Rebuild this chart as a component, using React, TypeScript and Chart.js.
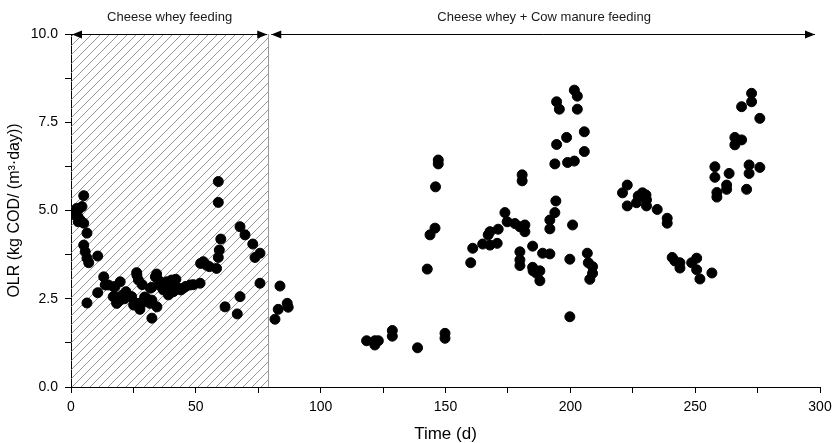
import React, { useEffect, useRef } from "react";
import { Chart, registerables } from "chart.js";

Chart.register(...registerables);

// Phase 1: cheese whey feeding (days, OLR)
const phase1Days = [
  1.6, 2.3, 2.4, 2.8, 2.9, 3.1, 3.7, 4.4, 5.1, 5.1, 6.4, 5.1, 5.7, 6.4, 7.1, 10.7, 6.4, 10.7,
  13.1, 13.7, 15.0, 17.1, 17.6, 19.7, 17.7, 18.4, 19.7, 16.9, 18.3, 20.5, 21.5, 22.0, 23.7, 24.3,
  25.1, 26.3, 26.4, 27.0, 26.3, 27.6, 27.8, 28.5, 29.0, 29.5, 30.5, 31.6, 31.8, 32.3, 32.4, 32.4,
  33.8, 34.3, 35.0, 34.4, 36.0, 37.0, 38.3, 38.3, 39.0, 39.6, 40.0, 40.3, 41.0, 41.0, 42.0, 43.0,
  44.0, 45.0, 46.0, 47.7, 49.0, 51.7, 51.9, 53.0, 54.3, 55.4, 58.3, 59.0, 59.4, 60.0, 59.0, 59.0,
  61.7, 66.6, 67.7, 67.7, 69.7, 72.8, 73.7, 75.7, 75.7,
];
const phase1Olr = [
  4.87, 5.06, 4.97, 4.82, 4.68, 5.04, 4.73, 5.11, 5.42, 4.64, 4.36, 4.02, 3.83, 3.65, 3.52, 3.71, 2.38, 2.67,
  3.12, 2.89, 2.89, 2.84, 2.84, 2.98, 2.56, 2.38, 2.46, 2.56, 2.37, 2.6, 2.5, 2.7, 2.56, 2.56,
  2.32, 2.37, 3.17, 3.03, 3.24, 2.2, 2.38, 2.9, 2.4, 2.55, 2.5, 2.37, 2.8, 2.82, 2.46, 1.95,
  3.12, 3.2, 3.03, 2.27, 2.85, 2.75, 2.89, 2.98, 2.61, 2.65, 2.9, 3.03, 2.7, 2.84, 3.05, 2.8,
  2.75, 2.8, 2.85, 2.89, 2.9, 2.94, 3.5, 3.55, 3.45, 3.41, 3.36, 3.67, 3.88, 4.19, 5.82, 5.23,
  2.27, 2.07, 2.56, 4.54, 4.31, 4.05, 3.67, 3.79, 2.94,
];

// Phase 2: cheese whey + cow manure feeding (days, OLR)
const phase2Days = [
  81.7, 83.0, 83.7, 86.6, 87.0, 118.4, 121.7, 121.7, 123.1, 128.7, 128.7, 138.8, 142.7, 143.8,
  145.8, 146.0, 147.1, 147.1, 149.8, 149.8, 160.1, 160.9, 164.9, 167.1, 167.8, 167.8, 170.7, 171.1,
  173.8, 174.7, 177.8, 179.8, 181.8, 181.8, 179.8, 179.8, 179.8, 180.7, 180.7, 184.9, 184.9, 185.1,
  186.5, 187.8, 187.8, 188.9, 191.8, 191.8, 191.8, 193.8, 194.2, 193.8, 194.5, 194.5, 195.6, 198.5,
  198.9, 199.8, 199.8, 200.9, 201.6, 201.6, 202.8, 202.8, 205.6, 205.6, 206.8, 207.2, 207.8, 208.9,
  208.9, 220.9, 222.8, 222.8, 226.5, 227.2, 228.9, 230.3, 230.5, 230.5, 234.8, 238.8, 238.8, 240.8,
  241.9, 243.9, 243.9, 248.6, 250.6, 250.6, 251.9, 256.7, 257.9, 257.9, 258.7, 258.7, 262.6, 262.6,
  263.6, 265.9, 265.9, 268.6, 268.6, 270.6, 271.6, 271.6, 272.6, 272.6, 275.9, 275.9,
];
const phase2Olr = [
  1.92, 2.2, 2.86, 2.37, 2.26, 1.31, 1.31, 1.19, 1.31, 1.6, 1.44, 1.11, 3.34, 4.31,
  4.5, 5.67, 6.43, 6.32, 1.52, 1.38, 3.52, 3.93, 4.05, 4.31, 4.4, 4.02, 4.07, 4.47,
  4.94, 4.68, 4.63, 4.54, 4.59, 4.4, 3.83, 3.6, 3.44, 6.01, 5.84, 3.99, 3.39, 3.29,
  3.22, 3.29, 3.01, 3.79, 3.77, 4.73, 4.48, 4.94, 5.27, 6.32, 6.87, 8.08, 7.87, 7.07,
  6.36, 3.62, 1.99, 4.59, 6.4, 8.41, 8.24, 7.87, 7.23, 6.67, 3.79, 3.52, 3.05, 3.41,
  3.22, 5.5, 5.72, 5.13, 5.22, 5.41, 5.5, 5.44, 5.3, 5.13, 5.03, 4.78, 4.64, 3.67,
  3.57, 3.52, 3.37, 3.52, 3.65, 3.32, 3.06, 3.23, 6.24, 5.94, 5.51, 5.38, 5.72, 5.6,
  6.05, 7.07, 6.86, 7.0, 7.94, 5.6, 6.29, 6.05, 8.32, 8.08, 7.61, 6.22,
];

const phaseChangeDay = 79;
const phaseLabels = ["Cheese whey feeding", "Cheese whey + Cow manure feeding"];
const xTitle = "Time (d)";
const yTitle = "OLR (kg COD/ (m³·day))";

const FONT = "'Liberation Sans', Arial, sans-serif";

function makeHatch(ctx: CanvasRenderingContext2D) {
  const s = 9;
  const c = document.createElement("canvas");
  c.width = s;
  c.height = s;
  const g = c.getContext("2d")!;
  g.strokeStyle = "#8c8c8c";
  g.lineWidth = 0.9;
  g.beginPath();
  g.moveTo(-1, s + 1);
  g.lineTo(s + 1, -1);
  g.moveTo(-1, 1);
  g.lineTo(1, -1);
  g.moveTo(s - 1, s + 1);
  g.lineTo(s + 1, s - 1);
  g.stroke();
  return ctx.createPattern(c, "repeat");
}

function arrowHead(ctx: CanvasRenderingContext2D, x: number, y: number, dir: number) {
  const len = 10;
  const hw = 4;
  ctx.beginPath();
  ctx.moveTo(x, y);
  ctx.lineTo(x - dir * len, y - hw);
  ctx.lineTo(x - dir * len, y + hw);
  ctx.closePath();
  ctx.fill();
}

const phasePlugin = {
  id: "phasePlugin",
  beforeDatasetsDraw(chart: any) {
    const { ctx, scales } = chart;
    const x0 = scales.x.getPixelForValue(0);
    const x1 = scales.x.getPixelForValue(phaseChangeDay);
    const yT = scales.y.getPixelForValue(10);
    const yB = scales.y.getPixelForValue(0);
    ctx.save();
    const pat = makeHatch(ctx);
    if (pat) {
      ctx.fillStyle = pat;
      ctx.fillRect(x0, yT, x1 - x0, yB - yT);
    }
    ctx.strokeStyle = "#9a9a9a";
    ctx.lineWidth = 1;
    ctx.beginPath();
    ctx.moveTo(Math.round(x1) + 0.5, yT);
    ctx.lineTo(Math.round(x1) + 0.5, yB);
    ctx.stroke();
    ctx.restore();
  },
  afterDraw(chart: any) {
    const { ctx, scales } = chart;
    const x0 = scales.x.getPixelForValue(0);
    const x1 = scales.x.getPixelForValue(phaseChangeDay);
    const x2 = scales.x.getPixelForValue(300);
    const y = Math.round(scales.y.getPixelForValue(10)) + 0.5;
    ctx.save();
    ctx.strokeStyle = "#000";
    ctx.fillStyle = "#000";
    ctx.lineWidth = 1;
    ctx.beginPath();
    ctx.moveTo(x0, y);
    ctx.lineTo(x1 - 1, y);
    ctx.stroke();
    arrowHead(ctx, x0 + 1, y, -1);
    arrowHead(ctx, x1 - 1, y, 1);
    ctx.beginPath();
    ctx.moveTo(x1 + 3, y);
    ctx.lineTo(x2 - 5, y);
    ctx.stroke();
    arrowHead(ctx, x1 + 3, y, -1);
    arrowHead(ctx, x2 - 5, y, 1);
    ctx.font = `13px ${FONT}`;
    ctx.textAlign = "center";
    ctx.textBaseline = "middle";
    ctx.fillStyle = "#1a1a1a";
    ctx.fillText(phaseLabels[0], (x0 + x1) / 2, 17);
    ctx.fillText(phaseLabels[1], (x1 + x2) / 2, 17);
    ctx.restore();
  },
};

export default function App() {
  const ref = useRef<HTMLCanvasElement>(null);
  useEffect(() => {
    if (!ref.current) return;
    const p1 = phase1Days.map((d, i) => ({ x: d, y: phase1Olr[i] }));
    const p2 = phase2Days.map((d, i) => ({ x: d, y: phase2Olr[i] }));
    const chart = new Chart(ref.current, {
      type: "scatter",
      data: {
        datasets: [
          { data: p1, backgroundColor: "#000", borderColor: "#000", pointRadius: 5, pointHoverRadius: 5 },
          { data: p2, backgroundColor: "#000", borderColor: "#000", pointRadius: 5, pointHoverRadius: 5 },
        ],
      },
      options: {
        responsive: false,
        animation: false,
        layout: { padding: { top: 34, right: 13, left: 0, bottom: 0 } },
        plugins: { legend: { display: false }, tooltip: { enabled: false } },
        scales: {
          x: {
            type: "linear",
            min: 0,
            max: 300,
            afterFit: (s: any) => {
              s.height = 56;
              s.paddingLeft = 0;
              s.paddingRight = 0;
            },
            ticks: {
              stepSize: 25,
              autoSkip: false,
              maxRotation: 0,
              padding: 6,
              color: "#000",
              font: { family: FONT, size: 14 },
              callback: (v: any) => (Number(v) % 50 === 0 ? String(v) : ""),
            },
            grid: { drawOnChartArea: false, drawTicks: true, tickLength: 6, color: "#000" },
            border: { display: true, color: "#000", width: 1 },
            title: {
              display: true,
              text: xTitle,
              color: "#000",
              font: { family: FONT, size: 17, lineHeight: 1 },
              padding: { top: 0, bottom: 0 },
            },
          },
          y: {
            min: 0,
            max: 10,
            afterFit: (s: any) => {
              s.width = 71;
              s.paddingTop = 0;
              s.paddingBottom = 0;
            },
            ticks: {
              stepSize: 1.25,
              autoSkip: false,
              padding: 7,
              color: "#000",
              font: { family: FONT, size: 14 },
              callback: (v: any) => (Number(v) % 2.5 === 0 ? Number(v).toFixed(1) : ""),
            },
            grid: { drawOnChartArea: false, drawTicks: true, tickLength: 6, color: "#000" },
            border: { display: true, color: "#000", width: 1 },
            title: {
              display: true,
              text: yTitle,
              color: "#000",
              font: { family: FONT, size: 16, lineHeight: 1 },
              padding: { top: 7, bottom: 0 },
            },
          },
        },
      },
      plugins: [phasePlugin],
    });
    return () => chart.destroy();
  }, []);
  return (
    <div style={{ position: "fixed", left: 0, top: 0, width: 833, height: 443, background: "#fff" }}>
      <canvas ref={ref} width={833} height={443} />
    </div>
  );
}
